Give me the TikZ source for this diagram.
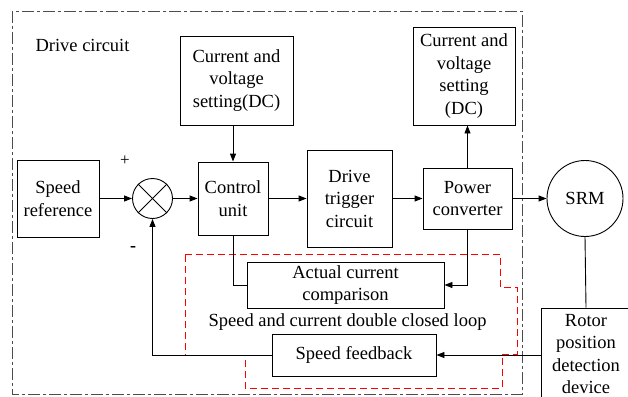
\documentclass[tikz,border=0pt]{standalone}
\usepackage{fontspec}
\setmainfont{LiberationSerif}[Extension=.ttf, UprightFont=*-Regular, BoldFont=*-Bold, ItalicFont=*-Italic, BoldItalicFont=*-BoldItalic]
\usetikzlibrary{arrows.meta}
\tikzset{
  blk/.style={draw, line width=0.9pt, inner sep=0pt, align=center, font=\fontsize{18.5}{22.5}\selectfont},
  txt/.style={inner sep=0pt, align=center, font=\fontsize{18.5}{22.5}\selectfont},
  conn/.style={line width=0.9pt},
  arr/.style={line width=0.9pt, -{Triangle[length=8pt,width=6pt]}},
  frame/.style={line width=0.9pt, draw=black!70, dash pattern=on 12pt off 3pt on 3pt off 3pt},
  redloop/.style={line width=0.9pt, draw=red, dash pattern=on 7pt off 4pt},
}
\begin{document}
\begin{tikzpicture}[x=1pt,y=-1pt]
\useasboundingbox (0,0) rectangle (628,396);
% outer frame
\draw[frame] (12,11) rectangle (522,394);
% red loop
\draw[redloop] (185,254) -- (500,254) -- (500,287) -- (517,287) -- (517,354) -- (502,354) -- (502,388) -- (245,388) -- (245,355) -- (185,355) -- cycle;

\node[txt] (dc) at (82.5,45) {Drive circuit};
\node[blk, minimum width=82pt, minimum height=77pt] (sref) at (58,198.5) {Speed\\reference};
\node[draw, circle, line width=0.9pt, minimum size=40pt, inner sep=0pt] (sum) at (152.5,198.5) {};
\draw[conn] (sum.north west) -- (sum.south east);
\draw[conn] (sum.north east) -- (sum.south west);
\node[blk, minimum width=113pt, minimum height=89pt] (cvsa) at (236.5,80.5) {Current and\\voltage\\setting(DC)};
\node[blk, minimum width=70pt, minimum height=73pt] (ctrl) at (233,198.5) {Control\\unit};
\node[blk, minimum width=85pt, minimum height=97pt] (drv) at (349.5,198.5) {Drive\\trigger\\circuit};
\node[blk, minimum width=89pt, minimum height=61pt] (pc) at (467.5,198.5) {Power\\converter};
\node[blk, minimum width=102pt, minimum height=98pt] (cvsb) at (464,76) {Current and\\voltage\\setting\\(DC)};
\node[blk, circle, minimum size=76pt] (srm) at (585,198.5) {SRM};
\node[blk, minimum width=197pt, minimum height=46pt] (act) at (345.5,285) {Actual current\\comparison};
\node[txt] (loop) at (347.5,322) {Speed and current double closed loop};
\node[blk, minimum width=164pt, minimum height=42pt] (sfb) at (354,355) {Speed feedback};
\node[blk, minimum width=90pt, minimum height=92pt] (rot) at (586,354) {Rotor\\position\\detection\\device};
\node[inner sep=0pt, font=\fontsize{17}{17}\selectfont] (plus) at (125,161) {+};
\node[inner sep=0pt, font=\fontsize{18}{18}\selectfont\bfseries] (minus) at (133,249) {-};

% connectors
\draw[arr] (sref.east) -- (sum.west);
\draw[arr] (sum.east) -- (ctrl.west);
\draw[arr] (ctrl.east) -- (drv.west);
\draw[arr] (drv.east) -- (pc.west);
\draw[arr] (pc.east) -- (srm.west);
\draw[arr] (ctrl.north |- cvsa.south) -- (ctrl.north);
\draw[arr] (pc.north) -- (pc.north |- cvsb.south);
\draw[conn] (ctrl.south) |- (act.west);
\draw[arr] (pc.south) |- (act.east);
\draw[conn] (srm.south) -- (rot.north);
\draw[arr] (rot.west |- sfb.east) -- (sfb.east);
\draw[arr] (sfb.west) -| (sum.south);
\end{tikzpicture}
\end{document}
